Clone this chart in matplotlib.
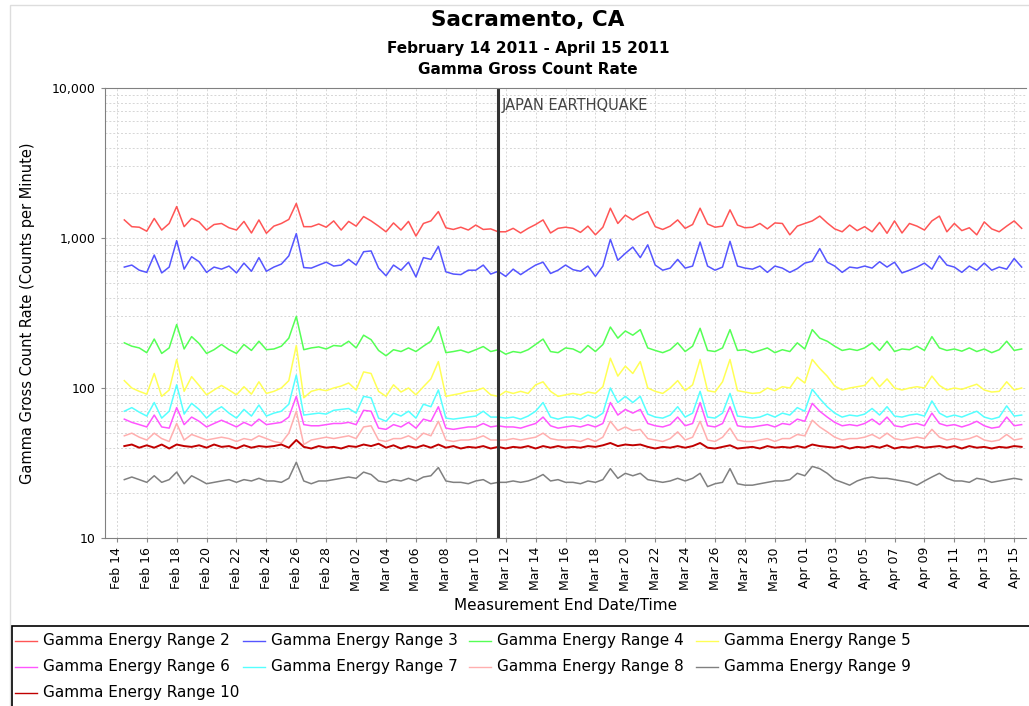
import pandas as pd
import numpy as np
import matplotlib
matplotlib.use("Agg")
import matplotlib.pyplot as plt
from matplotlib.ticker import FuncFormatter, NullFormatter
from matplotlib.lines import Line2D
from matplotlib.patches import Rectangle

# half-day samples, Feb 14 12:00 .. Apr 15 12:00
times = pd.date_range("2011-02-14 12:00", periods=121, freq="12h")

range2 = [1320, 1190, 1180, 1110, 1350, 1130, 1250, 1620, 1190, 1350,
          1280, 1130, 1230, 1250, 1170, 1130, 1290, 1080, 1320, 1075,
          1200, 1250, 1330, 1700, 1190, 1190, 1240, 1180, 1300, 1130,
          1290, 1200, 1390, 1300, 1200, 1100, 1260, 1130, 1290, 1030,
          1250, 1300, 1500, 1170, 1140, 1180, 1130, 1220, 1140, 1150,
          1100, 1100, 1160, 1080, 1160, 1230, 1320, 1080, 1160, 1180,
          1160, 1090, 1200, 1050, 1180, 1580, 1250, 1420, 1320, 1420,
          1500, 1190, 1140, 1200, 1320, 1160, 1230, 1580, 1240, 1180,
          1200, 1540, 1220, 1170, 1180, 1250, 1150, 1260, 1250, 1050,
          1200, 1250, 1300, 1400, 1260, 1150, 1100, 1220, 1120, 1190,
          1100, 1270, 1075, 1300, 1080, 1250, 1200, 1130, 1300, 1400,
          1100, 1250, 1120, 1170, 1050, 1280, 1150, 1100, 1200, 1300,
          1160]
range3 = [640, 660, 610, 590, 770, 585, 640, 960, 620, 750,
          695, 590, 640, 620, 650, 585, 680, 600, 740, 600,
          640, 670, 760, 1070, 635, 630, 660, 690, 650, 660,
          720, 660, 810, 820, 630, 560, 660, 610, 690, 550,
          740, 720, 880, 595, 575, 570, 610, 610, 660, 575,
          600, 555, 620, 570, 615, 660, 690, 580, 610, 660,
          615, 600, 650, 555, 650, 980, 710, 790, 870, 740,
          900, 660, 610, 630, 720, 630, 650, 940, 650, 610,
          640, 950, 650, 630, 620, 650, 590, 650, 630, 590,
          625, 680, 700, 850, 690, 650, 590, 640, 630, 650,
          630, 695, 640, 690, 585, 610, 640, 680, 620, 760,
          660, 640, 590, 650, 610, 680, 610, 640, 620, 730,
          640]
range4 = [200, 190, 185, 172, 212, 170, 185, 265, 182, 220,
          198, 170, 180, 195, 180, 170, 195, 178, 205, 180,
          182, 190, 215, 300, 180, 185, 188, 182, 192, 190,
          205, 185, 225, 210, 178, 164, 180, 175, 185, 175,
          190, 205, 256, 172, 175, 179, 172, 180, 189, 175,
          180, 168, 175, 172, 180, 195, 212, 175, 172, 185,
          182, 172, 192, 175, 195, 255, 215, 240, 225, 245,
          185, 178, 172, 180, 200, 175, 190, 250, 178, 175,
          185, 245, 178, 180, 172, 178, 185, 172, 180, 175,
          200, 182, 245, 215, 205, 190, 178, 182, 178, 185,
          200, 178, 205, 175, 182, 180, 190, 178, 220, 185,
          178, 182, 176, 185, 175, 182, 172, 180, 205, 178,
          182]
range5 = [112, 100, 95, 91, 125, 88, 97, 155, 95, 119,
          104, 90, 97, 104, 97, 90, 102, 91, 110, 92,
          95, 100, 112, 192, 86, 95, 98, 96, 100, 103,
          108, 97, 128, 125, 95, 88, 105, 94, 100, 90,
          102, 115, 150, 88, 90, 92, 95, 96, 100, 90,
          88, 95, 92, 95, 92, 105, 110, 95, 88, 90,
          92, 90, 94, 92, 102, 158, 120, 140, 125, 150,
          100, 95, 92, 100, 112, 96, 105, 155, 96, 94,
          110, 155, 96, 94, 92, 93, 100, 96, 102, 100,
          118, 108, 155, 135, 120, 103, 97, 100, 102, 104,
          118, 102, 115, 100, 97, 100, 102, 100, 120, 104,
          97, 100, 98, 102, 106, 97, 94, 95, 110, 97,
          100]
range6 = [62, 59, 57, 55, 66, 55, 54, 74, 57, 64,
          60, 55, 58, 61, 58, 55, 59, 56, 62, 57,
          58, 59, 64, 88, 57, 56, 56, 57, 58, 58,
          59, 57, 71, 70, 54, 53, 57, 55, 59, 54,
          62, 60, 75, 54, 53, 54, 55, 55, 58, 55,
          56, 55, 55, 54, 56, 58, 64, 56, 54, 55,
          56, 55, 57, 55, 58, 80, 66, 72, 68, 72,
          58, 56, 55, 57, 64, 56, 58, 80, 56, 55,
          58, 75, 56, 55, 55, 56, 57, 55, 58, 57,
          62, 60, 79, 70, 64, 59, 56, 57, 56, 58,
          62, 57, 64, 56, 55, 57, 58, 56, 68, 58,
          56, 57, 55, 57, 60, 56, 54, 55, 64, 56,
          57]
range7 = [70, 74, 69, 65, 80, 63, 70, 105, 67, 79,
          72, 63, 70, 75, 68, 63, 72, 65, 77, 65,
          68, 70, 78, 122, 66, 67, 68, 67, 71, 72,
          73, 68, 88, 86, 63, 60, 68, 65, 70, 63,
          78, 75, 97, 63, 62, 63, 64, 65, 70, 64,
          64, 63, 64, 62, 65, 70, 80, 64, 62, 64,
          64, 62, 66, 63, 68, 100, 80, 88, 80, 88,
          67, 64, 63, 66, 75, 64, 68, 95, 64, 63,
          68, 92, 65, 64, 63, 64, 67, 64, 68, 66,
          74, 70, 98, 85, 75, 68, 64, 66, 65, 67,
          73, 66, 75, 65, 64, 66, 67, 65, 82, 68,
          64, 66, 64, 67, 70, 64, 62, 64, 76, 65,
          66]
range8 = [48, 50, 47, 45, 50, 46, 44, 58, 45, 49,
          47, 45, 46, 47, 46, 44, 46, 45, 48, 46,
          44, 43, 50, 70, 42, 45, 46, 47, 46, 47,
          48, 46, 55, 56, 45, 44, 46, 46, 48, 45,
          50, 48, 60, 45, 44, 45, 45, 46, 48, 45,
          45, 45, 46, 45, 46, 47, 50, 46, 45, 45,
          45, 44, 46, 44, 47, 60, 52, 55, 52, 53,
          46, 45, 44, 46, 51, 45, 47, 60, 45, 44,
          47, 54, 45, 44, 44, 45, 46, 44, 46, 46,
          49, 48, 61, 55, 51, 47, 45, 46, 46, 47,
          49, 46, 50, 46, 45, 46, 47, 46, 53, 47,
          45, 46, 45, 46, 48, 45, 44, 45, 49, 45,
          46]
range9 = [24.5, 25.5, 24.5, 23.5, 26, 23.5, 24.5, 27.5, 23, 26,
          24.5, 23, 23.5, 24, 24.5, 23.5, 24.5, 24, 25, 24,
          24, 23.5, 25, 32, 24, 23, 24, 24, 24.5, 25,
          25.5, 25, 27.5, 26.5, 24, 23.5, 24.5, 24, 25, 24,
          25.5, 26, 29.5, 24, 23.5, 23.5, 23, 24, 24.5, 23,
          23.5, 23.5, 24, 23.5, 24, 25, 26.5, 24, 24.5, 23.5,
          23.5, 23, 24, 23.5, 24.5, 29, 25, 27, 26, 27,
          24.5, 24, 23.5, 24, 25, 24, 25, 27, 22, 23,
          23.5, 29, 23, 22.5, 22.5, 23, 23.5, 24, 24, 24.5,
          27, 26, 30, 29, 27, 24.5, 23.5, 22.5, 24, 25,
          25.5, 25, 25, 24.5, 24, 23.5, 22.5, 24, 25.5, 27,
          25, 24, 24, 23.5, 25, 24.5, 23.5, 24, 24.5, 25,
          24.5]
range10 = [41, 42, 40, 41.5, 40, 42, 39.5, 42, 41, 40.5,
           41.5, 40, 42, 40.5, 41, 39.5, 41.5, 40, 41, 40.5,
           41, 42, 40, 45, 40.5, 39.5, 41, 40, 40.5, 39.5,
           41, 40.5, 42, 41, 42.5, 40, 41.5, 39.5, 41, 40,
           41.5, 40, 42, 40, 41, 39.5, 40.5, 40, 41, 39.5,
           40.5, 39.5, 40.5, 40, 41, 39.5, 41, 40, 41, 40,
           40.5, 40, 41, 40.5, 41.5, 43, 41, 42, 41.5, 42,
           40.5, 39.5, 40.5, 40, 41, 40, 41, 43, 40, 39.5,
           40.5, 41.5, 39.5, 40, 40.5, 39.5, 41, 40, 40.5, 40,
           41, 40, 42, 41, 40.5, 40, 41, 39.5, 40.5, 40,
           41, 40, 41.5, 39.5, 40.5, 40, 41, 40, 40.5, 41,
           40, 41, 39.5, 41, 40, 40.5, 39.5, 40.5, 40, 41,
           40.5]

names = ["Gamma Energy Range %d" % i for i in range(2, 11)]
values = [range2, range3, range4, range5, range6, range7, range8, range9, range10]
colors = ["#FF5555", "#5555FF", "#55FF55", "#FFFF55", "#FF55FF",
          "#55FFFF", "#FFAFAF", "#808080", "#C00000"]

quake_time = pd.Timestamp("2011-03-11 11:00")
tick_days = pd.date_range("2011-02-14", "2011-04-15", freq="2D")

W, H = 1029, 706
fig = plt.figure(figsize=(W / 100, H / 100), dpi=100)
ax = fig.add_axes([105 / W, 1 - 538 / H, (1026 - 105) / W, (538 - 88) / H])

for name, vals, col in zip(names, values, colors):
    lw = 1.4 if col == "#C00000" else 1.1
    ax.plot(times, vals, color=col, lw=lw, label=name)

ax.set_yscale("log")
ax.set_ylim(10, 10000)
ax.set_xlim(pd.Timestamp("2011-02-13 05:00"), pd.Timestamp("2011-04-15 19:00"))
ax.yaxis.set_major_formatter(FuncFormatter(lambda v, p: "{:,.0f}".format(v)))
ax.yaxis.set_minor_formatter(NullFormatter())
ax.set_xticks(tick_days)
ax.set_xticklabels([t.strftime("%b %d") for t in tick_days], rotation=90, fontsize=9)
ax.tick_params(axis="y", which="major", labelsize=9, length=3, color="#888888")
ax.tick_params(axis="y", which="minor", length=0)
ax.tick_params(axis="x", length=3, color="#888888")
ax.grid(True, which="both", axis="y", ls=(0, (2, 2)), color="#d6d6d6", lw=0.7)
ax.grid(True, which="major", axis="x", ls=(0, (2, 2)), color="#d6d6d6", lw=0.7)
for s in ["left", "bottom", "top"]:
    ax.spines[s].set_color("#808080")
ax.spines["right"].set_visible(False)

ax.set_ylabel("Gamma Gross Count Rate (Counts per Minute)", fontsize=10.5, labelpad=12)
ax.set_xlabel("Measurement End Date/Time", fontsize=11, labelpad=5)

ax.axvline(quake_time, color="#333333", lw=2.2)
ax.annotate("JAPAN EARTHQUAKE", xy=(quake_time, 7700), xytext=(3, 0),
            textcoords="offset points", va="center", ha="left",
            fontsize=10.5, color="#444444")

fig.text(528 / W, 1 - 20 / H, "Sacramento, CA", ha="center", va="center",
         fontsize=15.5, weight="bold")
fig.text(528 / W, 1 - 48 / H, "February 14 2011 - April 15 2011", ha="center",
         va="center", fontsize=11, weight="bold")
fig.text(528 / W, 1 - 70 / H, "Gamma Gross Count Rate", ha="center",
         va="center", fontsize=11, weight="bold")

# chart panel border and legend box
fig.add_artist(Rectangle((10 / W, -0.2), 1.2, 1.2 - 5 / H, transform=fig.transFigure,
                         fill=False, edgecolor="#dddddd", lw=1))
fig.add_artist(Rectangle((12 / W, -0.2), 1.2, 0.2 + (H - 626) / H, transform=fig.transFigure,
                         fill=False, edgecolor="black", lw=1.2))

# legend laid out row-wise like the original
col_x = [15, 243, 469, 696]
row_y = [641, 667, 693]
for i, (name, col) in enumerate(zip(names, colors)):
    x0 = col_x[i % 4]
    y0 = 1 - row_y[i // 4] / H
    fig.add_artist(Line2D([x0 / W, (x0 + 22) / W], [y0, y0], transform=fig.transFigure,
                          color=col, lw=1.0))
    fig.text((x0 + 28) / W, y0, name, ha="left", va="center", fontsize=11)

fig.savefig("out.png", dpi=100)
